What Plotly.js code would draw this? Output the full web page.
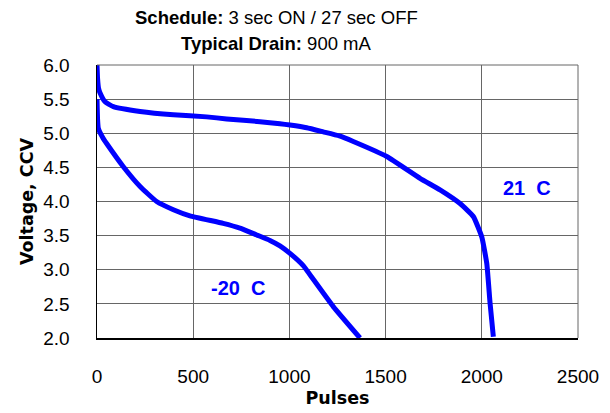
<!DOCTYPE html>
<html><head><meta charset="utf-8">
<script src="https://cdn.plot.ly/plotly-3.0.1.min.js"></script>
<style>body{margin:0;background:#fff}</style>
</head><body><div id="chart" style="width:610px;height:413px"></div>
<script>
const warmPulses = [0, 3, 8, 16, 42, 85, 224, 397, 570, 674, 847, 951, 1003, 1090, 1176, 1260, 1332, 1506, 1679, 1783, 1887, 1956, 2000, 2026, 2043, 2060];
const warmVolts  = [6.0, 5.8, 5.66, 5.59, 5.46, 5.39, 5.32, 5.27, 5.24, 5.21, 5.17, 5.14, 5.12, 5.08, 5.02, 4.96, 4.88, 4.66, 4.34, 4.17, 3.97, 3.78, 3.48, 3.09, 2.51, 2.02];
const coldPulses = [0, 3, 7, 31, 50, 137, 224, 310, 397, 483, 656, 743, 830, 899, 951, 1003, 1072, 1124, 1228, 1367];
const coldVolts  = [5.5, 5.2, 5.07, 4.93, 4.85, 4.51, 4.22, 4.0, 3.88, 3.79, 3.68, 3.61, 3.51, 3.43, 3.35, 3.24, 3.06, 2.86, 2.46, 2.0];
const xTicks = [0, 500, 1000, 1500, 2000, 2500];
const yTicks = [2.0, 2.5, 3.0, 3.5, 4.0, 4.5, 5.0, 5.5, 6.0];
const seriesLabels = ["21  C", "-20  C"];
const labelPos = [[2235, 4.2], [733, 2.73]];

const font = "'Liberation Sans', Arial, sans-serif";
const titleFont = "'DejaVu Sans', Verdana, sans-serif";
const line = {color: "#0000FF", width: 5, shape: "spline", smoothing: 0.4};
const traces = [
  {x: warmPulses, y: warmVolts, mode: "lines", line: line, hoverinfo: "skip"},
  {x: coldPulses, y: coldVolts, mode: "lines", line: line, hoverinfo: "skip"}
];
const layout = {
  width: 610, height: 413,
  margin: {l: 97, r: 32, t: 65, b: 75},
  showlegend: false,
  paper_bgcolor: "#fff", plot_bgcolor: "#fff",
  font: {family: font, size: 19, color: "#000"},
  xaxis: {
    range: [0, 2500], tickvals: xTicks, ticktext: xTicks.map(String),
    tickfont: {size: 19},
    showgrid: true, gridcolor: "#666", gridwidth: 1,
    showline: true, linecolor: "#000", linewidth: 1.5, mirror: false,
    zeroline: false, ticks: "outside", ticklen: 21, tickcolor: "rgba(0,0,0,0)",
    title: {text: "<b>Pulses</b>", font: {family: titleFont, size: 17.5}, standoff: 5},
    fixedrange: true
  },
  yaxis: {
    range: [2.0, 6.0], tickvals: yTicks, ticktext: yTicks.map(v => v.toFixed(1)),
    tickfont: {size: 19},
    showgrid: true, gridcolor: "#666", gridwidth: 1,
    showline: true, linecolor: "#000", linewidth: 1.5,
    zeroline: false, ticks: "outside", ticklen: 22, tickcolor: "rgba(0,0,0,0)",
    title: {text: "<b>Voltage, CCV</b>", font: {family: titleFont, size: 17.5}, standoff: 5},
    fixedrange: true
  },
  shapes: [
    {type: "line", xref: "paper", yref: "paper", x0: 0, x1: 1, y0: 1, y1: 1, line: {color: "#666", width: 1}},
    {type: "line", xref: "paper", yref: "paper", x0: 1, x1: 1, y0: 0, y1: 1, line: {color: "#666", width: 1}}
  ],
  annotations: [
    {xref: "paper", yref: "paper", x: (276 - 97) / 481, y: 1, yshift: 48, showarrow: false,
     text: "<b>Schedule:</b> 3 sec ON / 27 sec OFF", font: {size: 18.5}, xanchor: "center", yanchor: "middle"},
    {xref: "paper", yref: "paper", x: (276 - 97) / 481, y: 1, yshift: 22, showarrow: false,
     text: "<b>Typical Drain:</b> 900 mA", font: {size: 18.5}, xanchor: "center", yanchor: "middle"}
  ].concat(seriesLabels.map((t, i) => ({
    x: labelPos[i][0], y: labelPos[i][1], text: "<b>" + t + "</b>", showarrow: false,
    bgcolor: "#fff", font: {size: 20, color: "#0000FF"}, xanchor: "center", yanchor: "middle"
  })))
};
Plotly.newPlot("chart", traces, layout, {displayModeBar: false, staticPlot: true});
</script></body></html>
